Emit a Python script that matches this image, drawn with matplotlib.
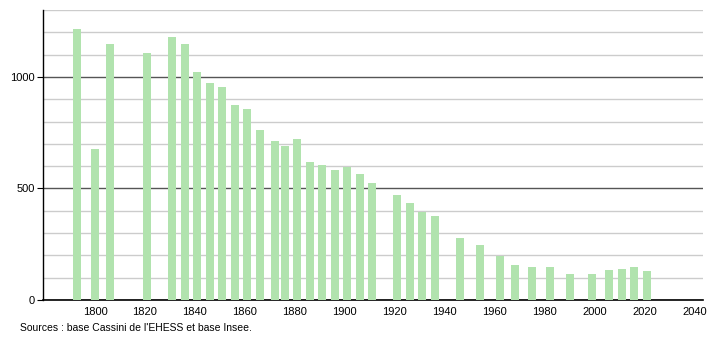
import matplotlib
matplotlib.use('Agg')
from matplotlib import pyplot as plt
from matplotlib.ticker import MultipleLocator

# Population by census year
years = [1793, 1800, 1806, 1821, 1831, 1836, 1841, 1846, 1851, 1856,
         1861, 1866, 1872, 1876, 1881, 1886, 1891, 1896, 1901, 1906,
         1911, 1921, 1926, 1931, 1936, 1946, 1954, 1962, 1968, 1975,
         1982, 1990, 1999, 2006, 2011, 2016, 2021]
population = [1213, 679, 1146, 1106, 1178, 1146, 1022, 975, 956, 872,
              854, 764, 714, 689, 722, 619, 607, 584, 595, 565,
              526, 469, 434, 393, 378, 280, 247, 198, 157, 148,
              148, 117, 117, 135, 139, 148, 130]
x_ticks = list(range(1800, 2041, 20))
y_ticks = [0, 500, 1000]
source = "Sources : base Cassini de l'EHESS et base Insee."

plt.rcParams['font.family'] = ['Liberation Sans', 'DejaVu Sans']

fig = plt.figure(figsize=(7.1, 3.4), dpi=100)
ax = fig.add_axes([0.0606, 0.1176, 0.9294, 0.853])

bar_color = '#b1e3ae'
ax.bar(years, population, width=3.2, color=bar_color, zorder=3)

# Grid: light every 100, dark at 500 and 1000
ax.set_ylim(0, 1300)
ax.set_xlim(1779.2, 2043.4)
ax.yaxis.set_minor_locator(MultipleLocator(100))
ax.set_yticks(y_ticks)
ax.set_xticks(x_ticks)
ax.grid(axis='y', which='minor', color='#cccccc', linewidth=1, zorder=1)
ax.grid(axis='y', which='major', color='#555555', linewidth=1, zorder=2)

for side in ['top', 'right']:
    ax.spines[side].set_visible(False)
ax.spines['left'].set_linewidth(1)
ax.spines['bottom'].set_linewidth(1.2)

ax.tick_params(axis='y', which='major', length=4, labelsize=8, pad=2)
ax.tick_params(axis='y', which='minor', length=0)
ax.tick_params(axis='x', length=0, labelsize=8, pad=5)

fig.text(20/710, 1 - 328/340, source, fontsize=7.5, va='center', ha='left')

fig.savefig('out.png', dpi=100)
